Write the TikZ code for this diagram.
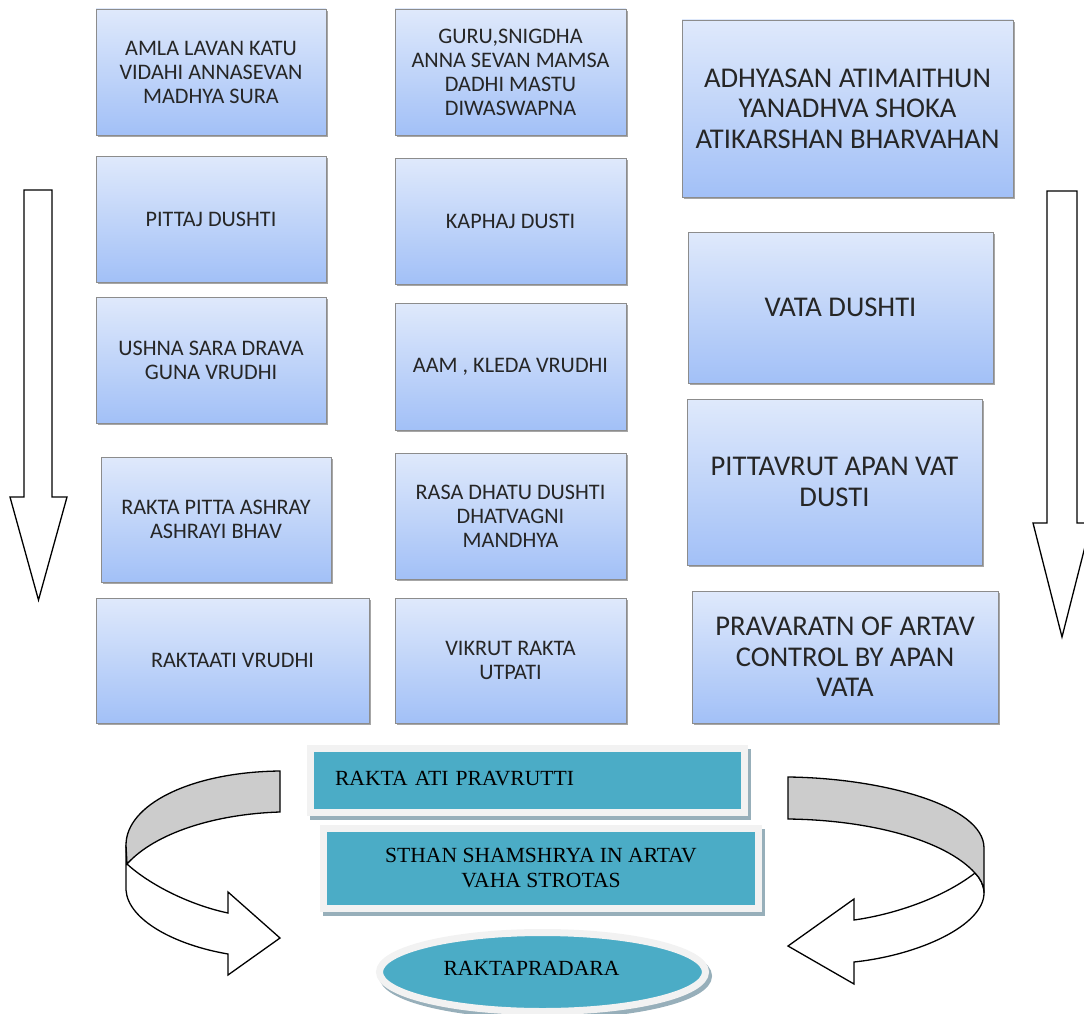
\documentclass[tikz,border=0pt]{standalone}
\usepackage{fontspec}
\setmainfont{Carlito}
\newfontfamily\tnr{Liberation Serif}
\usetikzlibrary{shapes.geometric,shadows}
\definecolor{gtop}{HTML}{DFE9FB}
\definecolor{gbot}{HTML}{A2C0F7}
\definecolor{gedge}{HTML}{8C8C8C}
\definecolor{teal1}{HTML}{4BACC6}
\definecolor{frame1}{HTML}{F2F2F2}
\definecolor{shad1}{HTML}{97AFBA}
\definecolor{ribgray}{HTML}{CCCCCC}
\begin{document}
\begin{tikzpicture}[x=1pt,y=-1pt,
 gbox/.style={draw=gedge, line width=0.9pt, top color=gtop, bottom color=gbot, align=center, inner sep=4pt,
   text=black!85, font=\fontsize{22.2}{24}\selectfont,
   drop shadow={shadow xshift=2pt, shadow yshift=-2pt, opacity=0.35, fill=black}},
 gboxL/.style={gbox, font=\fontsize{28.6}{30.5}\selectfont},
 tbox/.style={fill=teal1, draw=frame1, line width=7pt, font=\tnr\fontsize{21.6}{25}\selectfont, align=center, inner sep=0pt,
   preaction={draw=shad1, fill=shad1, line width=7pt, transform canvas={xshift=3pt, yshift=-4pt}}},
 ribbon/.style={draw=black, line width=1.3pt, line join=miter},
 bigarrow/.style={draw=black, fill=white, line width=1.3pt, line join=miter},
]
\useasboundingbox (0,0) rectangle (1084,1014);
\clip (0,0) rectangle (1084,1014);

% column 1
\node[gbox, minimum width=230pt, minimum height=126pt] (b1) at (211,72) {AMLA LAVAN KATU\\VIDAHI ANNASEVAN\\MADHYA SURA};
\node[gbox, minimum width=230pt, minimum height=126pt] (b2) at (211,219) {PITTAJ DUSHTI};
\node[gbox, minimum width=230pt, minimum height=126pt] (b3) at (211,360) {USHNA SARA DRAVA\\GUNA VRUDHI};
\node[gbox, minimum width=230pt, minimum height=125pt] (b4) at (216,519.5) {RAKTA PITTA ASHRAY\\ASHRAYI BHAV};
\node[gbox, minimum width=273pt, minimum height=125pt] (b5) at (232.5,660.5) {RAKTAATI VRUDHI};

% column 2
\node[gbox, minimum width=231pt, minimum height=126pt] (c1) at (510.5,72) {GURU,SNIGDHA\\ANNA SEVAN MAMSA\\DADHI MASTU\\DIWASWAPNA};
\node[gbox, minimum width=231pt, minimum height=126pt] (c2) at (510.5,221) {KAPHAJ DUSTI};
\node[gbox, minimum width=231pt, minimum height=127pt] (c3) at (510.5,366.5) {AAM , KLEDA VRUDHI};
\node[gbox, minimum width=231pt, minimum height=126pt] (c4) at (510.5,516) {RASA DHATU DUSHTI\\DHATVAGNI\\MANDHYA};
\node[gbox, minimum width=231pt, minimum height=125pt] (c5) at (510.5,660.5) {VIKRUT RAKTA\\UTPATI};

% column 3
\node[gboxL, minimum width=331pt, minimum height=177pt] (d1) at (847.5,108.5) {ADHYASAN ATIMAITHUN\\YANADHVA SHOKA\\ATIKARSHAN BHARVAHAN};
\node[gboxL, minimum width=305pt, minimum height=151pt] (d2) at (840.5,307.5) {VATA DUSHTI};
\node[gboxL, minimum width=295pt, minimum height=166pt] (d3) at (834.5,482) {PITTAVRUT APAN VAT\\DUSTI};
\node[gboxL, minimum width=306pt, minimum height=132pt] (d4) at (845,657) {PRAVARATN OF ARTAV\\CONTROL BY APAN\\VATA};

% teal boxes
\node[tbox, minimum width=434pt, minimum height=64pt, text width=385pt, align=left] (t1) at (527.5,780.5) {\raisebox{5pt}{RAKTA ATI PRAVRUTTI}};
\node[tbox, minimum width=435pt, minimum height=80pt] (t2) at (541,868.5) {STHAN SHAMSHRYA IN ARTAV\\VAHA STROTAS};
\node[tbox, ellipse, minimum width=326pt, minimum height=79pt] (t3) at (542.5,972) {\hspace*{-22pt}\raisebox{7pt}{RAKTAPRADARA}};

% big down arrows
\path[bigarrow] (24,190) -- (52,190) -- (52,497) -- (67,497) -- (38.5,600) -- (10,497) -- (24,497) -- cycle;
\path[bigarrow] (1047,191) -- (1077,191) -- (1077,523) -- (1091,523) -- (1062,637) -- (1033,523) -- (1047,523) -- cycle;

% left curved ribbon arrow
\path[ribbon, fill=white] (126,845) -- (126,890) .. controls (128,920) and (175,945) .. (228,954)
  -- (228,975) -- (280,938) -- (228,892) -- (228,913)
  .. controls (190,905) and (150,885) .. (127,864) -- cycle;
\path[ribbon, fill=ribgray] (280,771) .. controls (190,772) and (126,805) .. (126,845)
  -- (127,864) .. controls (155,833) and (215,814) .. (280,812) -- cycle;

% right curved ribbon arrow
\path[ribbon, fill=white] (975,873) .. controls (940,900) and (890,915) .. (854,920)
  -- (854,899) -- (788,946) -- (854,984) -- (854,962)
  .. controls (920,955) and (984,925) .. (984,893)
  .. controls (984,885) and (980,878) .. (975,873) -- cycle;
\path[ribbon, fill=ribgray] (788,777) .. controls (880,778) and (984,805) .. (984,848)
  -- (984,893) .. controls (984,885) and (980,878) .. (975,873)
  .. controls (945,840) and (870,820) .. (788,819) -- cycle;
\end{tikzpicture}
\end{document}
